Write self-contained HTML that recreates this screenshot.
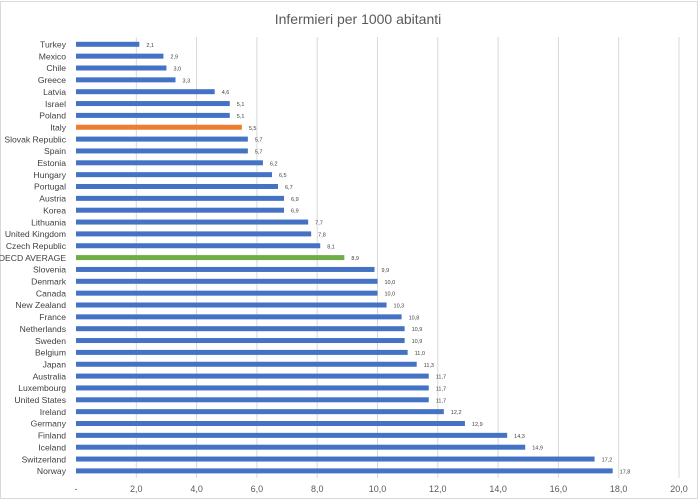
<!DOCTYPE html>
<html><head><meta charset="utf-8">
<style>
html,body{margin:0;padding:0;background:#fff;}
svg{display:block;font-family:"Liberation Sans",sans-serif;}
</style></head>
<body>
<svg id="chart" width="699" height="500" viewBox="0 0 699 500">
<rect x="0.5" y="1.5" width="697" height="497" fill="#fff" stroke="#d9d9d9"/>
<text x="358" y="24" text-anchor="middle" font-size="14" fill="#595959">Infermieri per 1000 abitanti</text>
<g id="grid"></g>
<g id="bars"></g>
<g id="labels"></g>
</svg>
<script>
const categories=["Turkey","Mexico","Chile","Greece","Latvia","Israel","Poland","Italy","Slovak Republic","Spain","Estonia","Hungary","Portugal","Austria","Korea","Lithuania","United Kingdom","Czech Republic","OECD AVERAGE","Slovenia","Denmark","Canada","New Zealand","France","Netherlands","Sweden","Belgium","Japan","Australia","Luxembourg","United States","Ireland","Germany","Finland","Iceland","Switzerland","Norway"];
const values=[2.1,2.9,3.0,3.3,4.6,5.1,5.1,5.5,5.7,5.7,6.2,6.5,6.7,6.9,6.9,7.7,7.8,8.1,8.9,9.9,10.0,10.0,10.3,10.8,10.9,10.9,11.0,11.3,11.7,11.7,11.7,12.2,12.9,14.3,14.9,17.2,17.8];
const ticks=[0,2,4,6,8,10,12,14,16,18,20];
const tickLabels=["-","2,0","4,0","6,0","8,0","10,0","12,0","14,0","16,0","18,0","20,0"];
const NS="http://www.w3.org/2000/svg";
const x0=76,x1=679,xmax=20;
const xs=v=>x0+(v/xmax)*(x1-x0);
const yTop=44.3,step=11.85;
const ys=i=>yTop+i*step;
function mk(tag,attrs,parent){const e=document.createElementNS(NS,tag);for(const k in attrs)e.setAttribute(k,attrs[k]);parent.appendChild(e);return e;}
const grid=document.getElementById('grid'),bars=document.getElementById('bars'),labels=document.getElementById('labels');
ticks.forEach((t,i)=>{
  if(i>0){const l=mk('line',{x1:xs(t),x2:xs(t),y1:37,y2:478,stroke:'#d9d9d9','stroke-width':1},grid);
  
  }
  const tx=mk('text',{x:xs(t),y:492,'text-anchor':'middle','font-size':9,fill:'#595959'},grid);
  tx.textContent=tickLabels[i];
  
  
});
categories.forEach((c,i)=>{
  const y=ys(i);
  const col=c==="Italy"?"#ed7d31":(c==="OECD AVERAGE"?"#70ad47":"#4472c4");
  const r=mk('rect',{x:x0,y:y-2.5,width:xs(values[i])-x0,height:5,fill:col},bars);
  
  
  const lt=mk('text',{x:66,y:y+3.2,'text-anchor':'end','font-size':8.6,fill:'#404040'},labels);
  lt.textContent=c;
  
  
  const vt=mk('text',{x:xs(values[i])+7,y:y+2.5,'font-size':5.5,fill:'#404040'},labels);
  vt.textContent=values[i].toFixed(1).replace('.',',');
  
  
});
</script>
</body></html>
